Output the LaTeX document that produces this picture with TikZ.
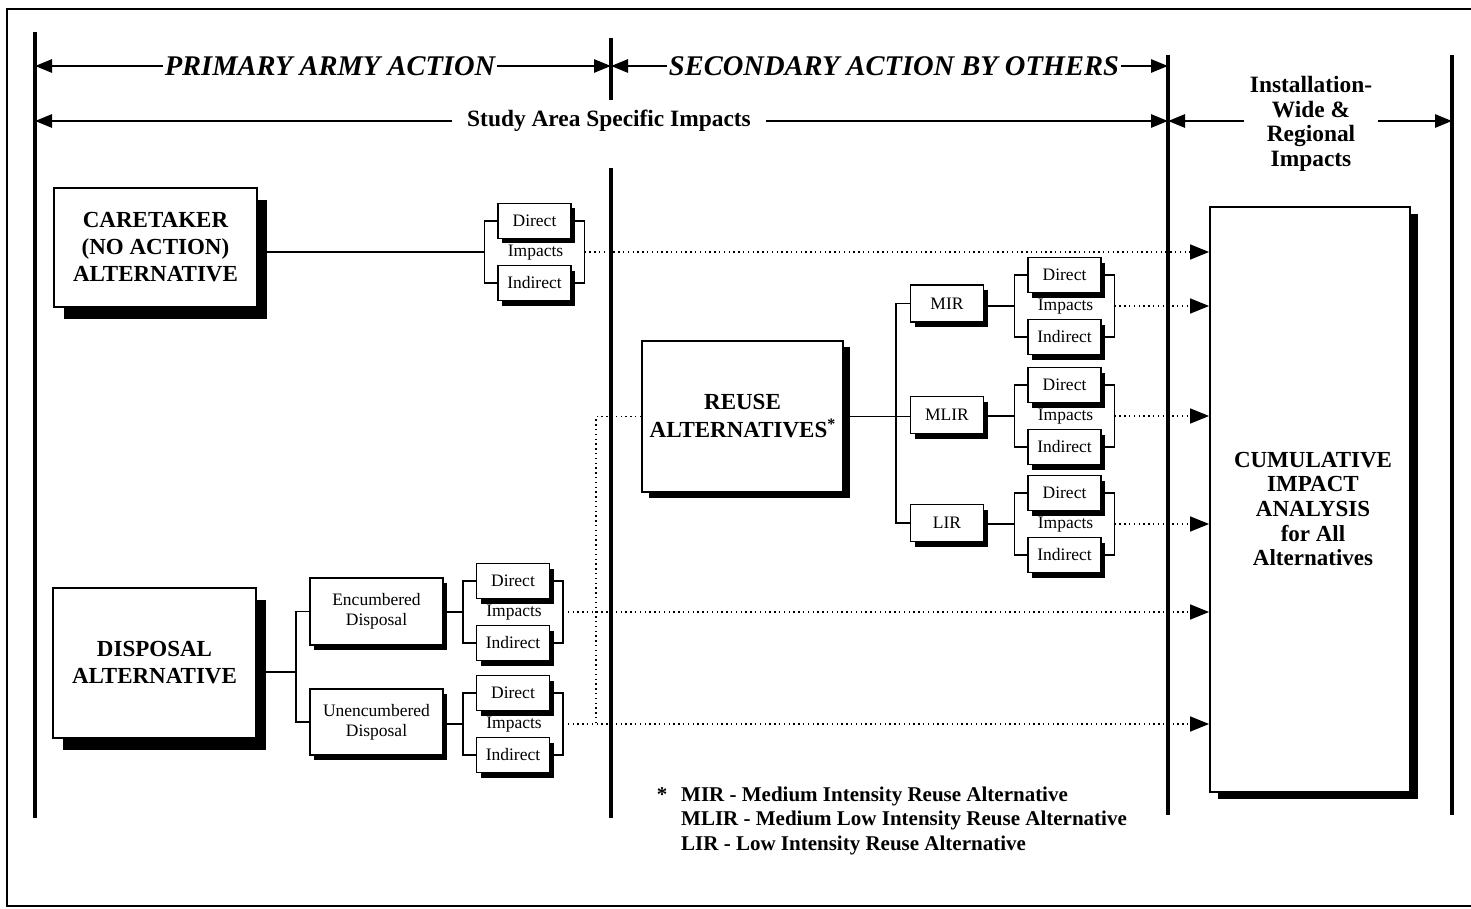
\documentclass[tikz,border=0pt]{standalone}
\usepackage{fontspec}
\setmainfont{Liberation Serif}
\usetikzlibrary{arrows.meta,shadows,calc}
\newcommand{\impgrp}[3]{%
  \node[smallbox] (#1d) at (#2,#3-31) {Direct};
  \node[smallbox] (#1i) at (#2,#3+31) {Indirect};
  \node[smalltxt] (#1t) at (#2+1,#3+1) {Impacts};
  \coordinate (#1L) at (#2-50,#3);
  \coordinate (#1R) at (#2+50,#3);
  \draw[brk] (#1d.west) -| (#1L) |- (#1i.west);
  \draw[brk] (#1d.east) -| (#1R) |- (#1i.east);
}
\begin{document}
\begin{tikzpicture}[x=1pt,y=-1pt,
  frm/.style={line width=2.8pt},
  vline/.style={line width=3.2pt},
  harrow/.style={line width=2.8pt,-{Triangle[length=17pt,width=13pt]}},
  brk/.style={line width=1.6pt},
  dotln/.style={line width=1.5pt,dash pattern=on 1.4pt off 3.4pt},
  dotarr/.style={dotln,-{Triangle[length=19pt,width=15pt]}},
  shadowL/.style={drop shadow={shadow xshift=10pt,shadow yshift=-12pt,fill=black,opacity=1}},
  shadowM/.style={drop shadow={shadow xshift=7pt,shadow yshift=-6pt,fill=black,opacity=1}},
  shadowS/.style={drop shadow={shadow xshift=4pt,shadow yshift=-5pt,fill=black,opacity=1}},
  bigbox/.style={draw,line width=1.8pt,fill=white,inner sep=0pt,align=center,
    font=\bfseries\fontsize{23}{27}\selectfont},
  midbox/.style={draw,line width=1.8pt,fill=white,inner sep=0pt,align=center,
    font=\fontsize{17.5}{20}\selectfont,shadowS},
  smallbox/.style={draw,line width=1.8pt,fill=white,inner sep=0pt,align=center,
    minimum width=73pt,minimum height=35pt,font=\fontsize{17.5}{20}\selectfont,shadowS},
  smalltxt/.style={inner sep=0pt,font=\fontsize{17.5}{20}\selectfont},
  hdr/.style={inner sep=2pt,font=\bfseries\itshape\fontsize{28.5}{30}\selectfont},
  sub/.style={inner ysep=0pt,align=center,font=\bfseries\fontsize{23.4}{24.5}\selectfont},
  legend/.style={inner sep=0pt,font=\bfseries\fontsize{21}{24.5}\selectfont},
]
\useasboundingbox (0,0) rectangle (1471,909);
% outer frame
\draw[frm] (1480,9) -- (7,9) -- (7,906) -- (1480,906);
% vertical lines
\coordinate (vA) at (35,0);
\coordinate (vB) at (611,0);
\coordinate (vC) at (1168,0);
\coordinate (vD) at (1452,0);
\draw[vline] (35,32) -- (35,818);
\draw[vline] (611,38) -- (611,100);
\draw[vline] (611,168) -- (611,818);
\draw[vline] (1168,55) -- (1168,815);
\draw[vline] (1452,55) -- (1452,815);
% headers
\node[hdr] (pa) at (330,66) {PRIMARY ARMY ACTION};
\node[hdr] (sa) at (894,66) {SECONDARY ACTION BY OTHERS};
\draw[harrow] (pa.west) -- (pa.west -| vA);
\draw[harrow] (pa.east) -- (pa.east -| vB);
\draw[harrow] (sa.west) -- (sa.west -| vB);
\draw[harrow] (sa.east) -- (sa.east -| vC);
\node[sub,inner xsep=15pt] (sasi) at (609,121) {Study Area Specific Impacts};
\draw[harrow] (sasi.west) -- (sasi.west -| vA);
\draw[harrow] (sasi.east) -- (sasi.east -| vC);
\node[sub,inner xsep=6pt] (iw) at (1311,124) {Installation-\\Wide \&\\Regional\\Impacts};
\coordinate (iwy) at (1311,121);
\draw[harrow] (iw.west |- iwy) -- (iwy -| vC);
\draw[harrow] (iw.east |- iwy) -- (iwy -| vD);
% main boxes
\node[bigbox,shadowL,minimum width=203pt,minimum height=119pt] (care) at (155.5,247.5)
  {CARETAKER\\(NO ACTION)\\ALTERNATIVE};
\node[bigbox,shadowL,minimum width=203pt,minimum height=150pt] (disp) at (154.5,663)
  {DISPOSAL\\ALTERNATIVE};
\node[bigbox,shadowM,minimum width=201pt,minimum height=151pt,
  font=\bfseries\fontsize{23}{28}\selectfont] (reuse) at (742.5,416.5)
  {REUSE\\ALTERNATIVES\raisebox{0.38em}{\fontsize{16}{16}\selectfont*}};
\node[bigbox,drop shadow={shadow xshift=8pt,shadow yshift=-7pt,fill=black,opacity=1},
  minimum width=200pt,minimum height=585pt] (cum) at (1310,499.5) {};
\node[inner sep=0pt,align=center,font=\bfseries\fontsize{23}{24.6}\selectfont] (cumt)
  at (1313,509) {CUMULATIVE\\IMPACT\\ANALYSIS\\for All\\Alternatives};
% disposal sub-boxes
\node[midbox,minimum width=133pt,minimum height=67pt] (enc) at (376.5,611.5) {Encumbered\\Disposal};
\node[midbox,minimum width=133pt,minimum height=66pt] (unenc) at (376.5,722) {Unencumbered\\Disposal};
\coordinate (dj) at (296,672);
\draw[brk] (disp.east |- dj) -- (dj);
\draw[brk] (enc.west) -| (dj) |- (unenc.west);
% reuse intensities
\node[midbox,minimum width=73pt,minimum height=37pt] (mir) at (947,303.5) {MIR};
\node[midbox,minimum width=73pt,minimum height=37pt] (mlir) at (947,415) {MLIR};
\node[midbox,minimum width=73pt,minimum height=37pt] (lir) at (947,523) {LIR};
\coordinate (rj) at (896,416.5);
\draw[brk] (reuse.east) -- (reuse.east -| mlir.west);
\draw[brk] (mir.west) -| (rj) |- (lir.west);
% impact groups
\impgrp{gc}{534.5}{252}
\impgrp{gm}{1064.5}{306}
\impgrp{gml}{1064.5}{416}
\impgrp{gl}{1064.5}{524}
\impgrp{ge}{513}{612}
\impgrp{gu}{513}{724}
\draw[brk] (care.east |- gcL) -- (gcL);
\draw[brk] (mir.east |- gmL) -- (gmL);
\draw[brk] (mlir.east |- gmlL) -- (gmlL);
\draw[brk] (lir.east |- glL) -- (glL);
\draw[brk] (enc.east |- geL) -- (geL);
\draw[brk] (unenc.east |- guL) -- (guL);
% dotted connectors to cumulative box
\foreach \g in {gc,gm,gml,gl,ge,gu}{
  \draw[dotarr] (\g R) -- (\g R -| cum.west);
}
\coordinate (dv) at (596,724);
\draw[dotln] (reuse.west) -| (dv);
% legend
\node[legend,anchor=base] (star) at (662,801) {*};
\node[legend,anchor=base west] (leg1) at (681,801) {MIR - Medium Intensity Reuse Alternative};
\node[legend,anchor=base west] (leg2) at (681,825.5) {MLIR - Medium Low Intensity Reuse Alternative};
\node[legend,anchor=base west] (leg3) at (681,850) {LIR - Low Intensity Reuse Alternative};
\end{tikzpicture}
\end{document}
